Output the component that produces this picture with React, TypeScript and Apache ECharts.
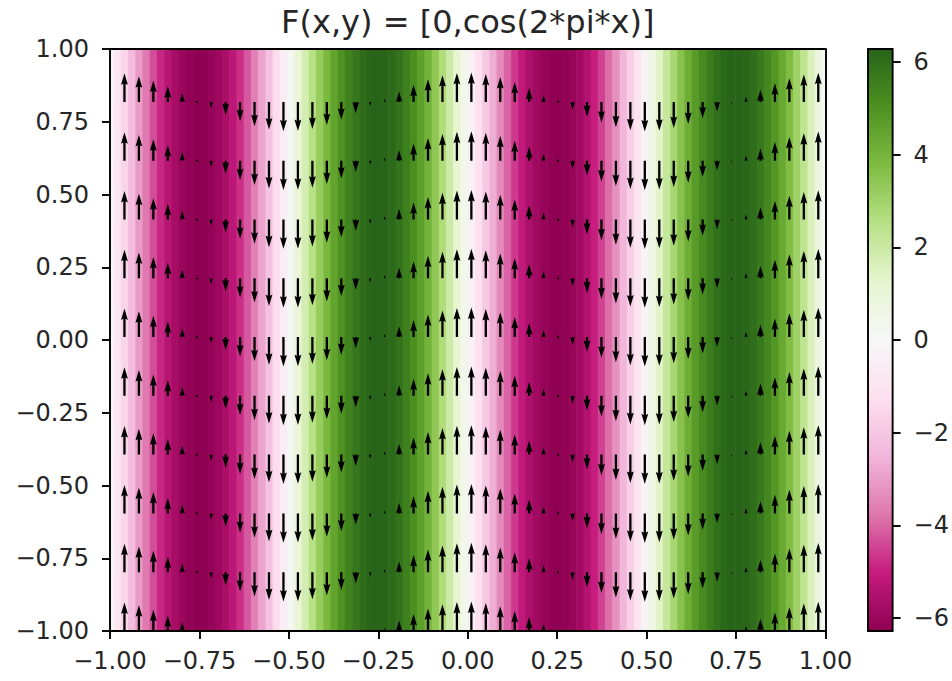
import React, { useEffect, useRef } from 'react';
import * as echarts from 'echarts';

const TITLE = 'F(x,y) = [0,cos(2*pi*x)]';
const X_TICKS = [-1, -0.75, -0.5, -0.25, 0, 0.25, 0.5, 0.75, 1];
const Y_TICKS = [-1, -0.75, -0.5, -0.25, 0, 0.25, 0.5, 0.75, 1];
const CBAR_TICKS = [-6, -4, -2, 0, 2, 4, 6];
const CBAR_MIN = -6.2832;
const CBAR_MAX = 6.2832;

// colour value of each grid column, left (x = -1) to right (x = 1)
const CELL_VALUES = [
  0, -0.795, -1.578, -2.335, -3.055, -3.725, -4.336, -4.877, -5.339, -5.715,
  -6.0, -6.188, -6.276, -6.263, -6.15, -5.938, -5.63, -5.231, -4.749, -4.189,
  -3.563, -2.879, -2.149, -1.384, -0.597, 0.199, 0.993, 1.77, 2.519, 3.227,
  3.884, 4.476, 4.998, 5.441, 5.796, 6.056, 6.219, 6.282, 6.245, 6.106,
  5.87, 5.538, 5.118, 4.616, 4.039, 3.397, 2.7, 1.961, 1.189, 0.398,
  -0.398, -1.189, -1.961, -2.7, -3.397, -4.039, -4.616, -5.118, -5.538, -5.87,
  -6.106, -6.245, -6.282, -6.219, -6.056, -5.796, -5.441, -4.998, -4.476, -3.884,
  -3.227, -2.519, -1.77, -0.993, -0.199, 0.597, 1.384, 2.149, 2.879, 3.563,
  4.189, 4.749, 5.231, 5.63, 5.938, 6.15, 6.263, 6.276, 6.188, 6.0,
  5.715, 5.339, 4.877, 4.336, 3.725, 3.055, 2.335, 1.578, 0.795, 0,
];

// arrow columns (x) and their vertical component
const ARROW_X = [
  -0.9596, -0.9192, -0.8788, -0.8384, -0.798, -0.7576, -0.7172, -0.6768, -0.6364, -0.596,
  -0.5556, -0.5152, -0.4747, -0.4343, -0.3939, -0.3535, -0.3131, -0.2727, -0.2323, -0.1919,
  -0.1515, -0.1111, -0.0707, -0.0303, 0.0101, 0.0505, 0.0909, 0.1313, 0.1717, 0.2121,
  0.2525, 0.2929, 0.3333, 0.3737, 0.4141, 0.4545, 0.4949, 0.5354, 0.5758, 0.6162,
  0.6566, 0.697, 0.7374, 0.7778, 0.8182, 0.8586, 0.899, 0.9394, 0.9798,
];
const ARROW_V = [
  0.968, 0.8738, 0.7237, 0.5272, 0.2969, 0.0476, -0.2048, -0.4441, -0.6549, -0.8237,
  -0.9397, -0.9955, -0.9874, -0.9161, -0.7861, -0.606, -0.3863, -0.1423, 0.1108, 0.3569,
  0.5801, 0.766, 0.9029, 0.9819, 0.998, 0.9501, 0.8413, 0.6785, 0.4723, 0.2358,
  -0.0159, -0.2665, -0.5, -0.7015, -0.858, -0.9595, -0.9995, -0.9754, -0.8888, -0.7453,
  -0.5539, -0.3271, -0.0792, 0.1736, 0.4154, 0.6306, 0.8053, 0.9284, 0.992,
];
// arrow rows (y)
const ROW_Y = [-1, -0.798, -0.596, -0.3939, -0.1919, 0.0101, 0.2121, 0.4141, 0.6162, 0.8182];

const PIYG = [
  '#8e0152', '#c51b7d', '#de77ae', '#f1b6da', '#fde0ef', '#f7f7f7',
  '#e6f5d0', '#b8e186', '#7fbc41', '#4d9221', '#276419',
];

const FONT = "'DejaVu Sans', sans-serif";
const TICK_FS = 24;
const AX_W = 1.9;
const AX_COLOR = '#000';
const TEXT_COLOR = '#262626';

// quiver geometry (px)
const SHAFT_W = 2.3;
const PX_PER_UNIT = 29.5;
const HEAD_W = 3;
const HEAD_L = 5;
const HEAD_AXL = 4.5;

const fmtTick = (v: number) => {
  const s = Math.abs(v).toFixed(2);
  return v < -1e-9 ? '\u2212' + s : s;
};
const fmtCbar = (v: number) => {
  const s = String(Math.round(Math.abs(v)));
  return v < -1e-9 ? '\u2212' + s : s;
};

export default function App() {
  const ref = useRef<HTMLDivElement>(null);

  useEffect(() => {
    if (!ref.current) return;
    const chart = echarts.init(ref.current, undefined, { renderer: 'svg' });

    const n = CELL_VALUES.length;
    const dx = 2 / (n - 1);
    const cellData = CELL_VALUES.map((v, i) => {
      const c = -1 + i * dx;
      return [Math.max(-1, c - dx / 2), Math.min(1, c + dx / 2), v];
    });

    const arrowData: number[][] = [];
    ROW_Y.forEach((y) => {
      ARROW_X.forEach((x, k) => {
        arrowData.push([x, y, ARROW_V[k]]);
      });
    });

    const stripeItem = (params: any, api: any) => {
      const p0 = api.coord([api.value(0), 1]);
      const p1 = api.coord([api.value(1), -1]);
      return {
        type: 'rect',
        shape: { x: p0[0], y: p0[1], width: p1[0] - p0[0] + 0.6, height: p1[1] - p0[1] },
        style: { fill: api.visual('color') },
      };
    };

    const arrowItem = (params: any, api: any) => {
      const p = api.coord([api.value(0), api.value(1)]);
      const v = api.value(2);
      const L = (Math.abs(v) * PX_PER_UNIT) / SHAFT_W;
      const dir = v >= 0 ? -1 : 1;
      let pts: number[][];
      if (L < 1) {
        pts = [];
        for (let k = 0; k < 6; k++) {
          const th = (k * Math.PI) / 3;
          pts.push([Math.cos(th) * 0.5, Math.sin(th) * 0.5]);
        }
      } else if (L < HEAD_L) {
        const s = L / HEAD_L;
        pts = [
          [0, 0.5], [HEAD_L - HEAD_AXL, 0.5], [0, HEAD_W / 2], [HEAD_L, 0],
          [0, -HEAD_W / 2], [HEAD_L - HEAD_AXL, -0.5], [0, -0.5],
        ].map(([a, b]) => [a * s, b * s]);
      } else {
        pts = [
          [0, 0.5], [L - HEAD_AXL, 0.5], [L - HEAD_L, HEAD_W / 2], [L, 0],
          [L - HEAD_L, -HEAD_W / 2], [L - HEAD_AXL, -0.5], [0, -0.5],
        ];
      }
      const points = pts.map(([a, b]) => [p[0] + b * SHAFT_W, p[1] + dir * a * SHAFT_W]);
      return { type: 'polygon', shape: { points }, style: { fill: '#000' } };
    };

    const cbarItem = (params: any, api: any) => {
      const p0 = api.coord([0, CBAR_MAX]);
      const p1 = api.coord([1, CBAR_MIN]);
      const stops = PIYG.slice().reverse().map((c, i) => ({ offset: i / (PIYG.length - 1), color: c }));
      return {
        type: 'rect',
        shape: { x: p0[0], y: p0[1], width: p1[0] - p0[0], height: p1[1] - p0[1] },
        style: {
          fill: new echarts.graphic.LinearGradient(0, 0, 0, 1, stops),
          stroke: AX_COLOR,
          lineWidth: AX_W,
        },
      };
    };

    const labelStyle = { fontFamily: FONT, fontSize: TICK_FS, color: TEXT_COLOR };
    const tick = { show: true, inside: false, length: 8, lineStyle: { color: AX_COLOR, width: AX_W } };
    const line = { show: true, onZero: false, lineStyle: { color: AX_COLOR, width: AX_W } };

    chart.setOption({
      animation: false,
      backgroundColor: '#fff',
      graphic: [
        {
          type: 'text',
          x: 467.75,
          y: 22,
          style: {
            text: TITLE,
            font: `32px ${FONT}`,
            fill: TEXT_COLOR,
            align: 'center',
            verticalAlign: 'middle',
          },
        },
      ],
      grid: [
        { left: 110, top: 49, width: 715.5, height: 582, show: false },
        { left: 868, top: 49, width: 29, height: 582, show: false },
      ],
      visualMap: {
        type: 'continuous',
        show: false,
        min: CBAR_MIN,
        max: CBAR_MAX,
        dimension: 2,
        seriesIndex: 0,
        inRange: { color: PIYG },
      },
      xAxis: [
        {
          type: 'value', gridIndex: 0, position: 'bottom', min: -1, max: 1, interval: 0.25, z: 10,
          axisLine: line, axisTick: tick, splitLine: { show: false },
          axisLabel: { ...labelStyle, margin: 18, formatter: fmtTick, customValues: X_TICKS },
        },
        {
          type: 'value', gridIndex: 0, position: 'top', min: -1, max: 1, z: 10,
          axisLine: line, axisTick: { show: false }, axisLabel: { show: false }, splitLine: { show: false },
        },
        {
          type: 'value', gridIndex: 1, min: 0, max: 1, show: false,
        },
      ],
      yAxis: [
        {
          type: 'value', gridIndex: 0, position: 'left', min: -1, max: 1, interval: 0.25, z: 10,
          axisLine: line, axisTick: tick, splitLine: { show: false },
          axisLabel: { ...labelStyle, margin: 21, formatter: fmtTick, customValues: Y_TICKS },
        },
        {
          type: 'value', gridIndex: 0, position: 'right', min: -1, max: 1, z: 10,
          axisLine: line, axisTick: { show: false }, axisLabel: { show: false }, splitLine: { show: false },
        },
        {
          type: 'value', gridIndex: 1, position: 'right', min: CBAR_MIN, max: CBAR_MAX, z: 10,
          axisLine: { show: false, onZero: false },
          axisTick: { ...tick, customValues: CBAR_TICKS },
          splitLine: { show: false },
          axisLabel: { ...labelStyle, margin: 21, formatter: fmtCbar, customValues: CBAR_TICKS },
        },
      ],
      series: [
        {
          type: 'custom', xAxisIndex: 0, yAxisIndex: 0, clip: true, z: 1,
          renderItem: stripeItem, data: cellData, encode: { x: 0, y: 1 },
        },
        {
          type: 'custom', xAxisIndex: 0, yAxisIndex: 0, clip: true, z: 2,
          renderItem: arrowItem, data: arrowData, encode: { x: 0, y: 1 },
        },
        {
          type: 'custom', xAxisIndex: 2, yAxisIndex: 2, z: 2,
          renderItem: cbarItem, data: [[0, 0]], encode: { x: 0, y: 1 },
        },
      ],
    });

    return () => chart.dispose();
  }, []);

  return (
    <div
      ref={ref}
      style={{ position: 'absolute', left: 0, top: 0, width: 952, height: 681 }}
    />
  );
}
